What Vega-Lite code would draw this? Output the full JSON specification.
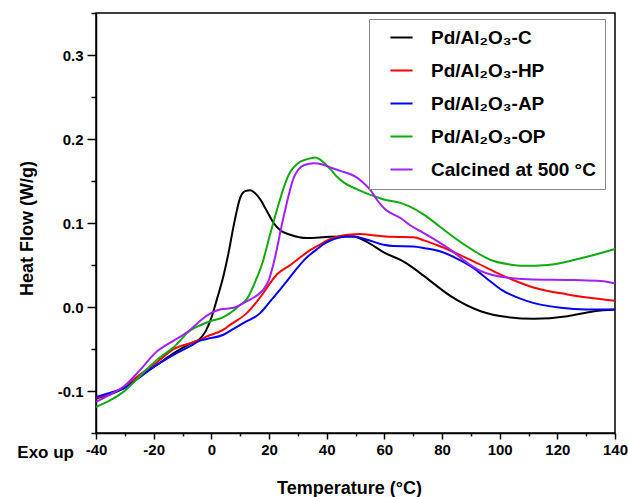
{
  "$schema": "https://vega.github.io/schema/vega-lite/v6.json",
  "width": 519,
  "height": 420,
  "autosize": {"type": "none"},
  "padding": {"left": 96, "top": 13, "right": 13, "bottom": 64},
  "background": "white",
  "config": {
    "font": "Liberation Sans",
    "view": {"stroke": "black", "strokeWidth": 1.5},
    "axis": {
      "grid": false,
      "domainColor": "black",
      "domainWidth": 1.5,
      "tickColor": "black",
      "tickWidth": 1.5,
      "labelColor": "black",
      "labelFont": "Liberation Sans",
      "labelFontWeight": "bold",
      "labelFontSize": 15,
      "titleColor": "black",
      "titleFont": "Liberation Sans",
      "titleFontWeight": "bold",
      "titleFontSize": 18
    },
    "legend": {
      "labelFont": "Liberation Sans",
      "labelFontWeight": "bold",
      "labelFontSize": 19,
      "labelColor": "black",
      "labelLimit": 400
    }
  },
  "resolve": {"axis": {"x": "independent", "y": "independent"}},
  "layer": [
    {
      "data": {
        "values": [
          {"s": "Pd/Al₂O₃-C", "T": -40, "v": -0.109},
          {"s": "Pd/Al₂O₃-C", "T": -35, "v": -0.104},
          {"s": "Pd/Al₂O₃-C", "T": -30.5, "v": -0.097},
          {"s": "Pd/Al₂O₃-C", "T": -25, "v": -0.083},
          {"s": "Pd/Al₂O₃-C", "T": -18.9, "v": -0.069},
          {"s": "Pd/Al₂O₃-C", "T": -13, "v": -0.055},
          {"s": "Pd/Al₂O₃-C", "T": -7, "v": -0.043},
          {"s": "Pd/Al₂O₃-C", "T": -4, "v": -0.038},
          {"s": "Pd/Al₂O₃-C", "T": -2, "v": -0.029},
          {"s": "Pd/Al₂O₃-C", "T": 0, "v": -0.013},
          {"s": "Pd/Al₂O₃-C", "T": 2, "v": 0.01},
          {"s": "Pd/Al₂O₃-C", "T": 4.2, "v": 0.037},
          {"s": "Pd/Al₂O₃-C", "T": 6, "v": 0.065},
          {"s": "Pd/Al₂O₃-C", "T": 7.7, "v": 0.096},
          {"s": "Pd/Al₂O₃-C", "T": 10, "v": 0.13},
          {"s": "Pd/Al₂O₃-C", "T": 11.7, "v": 0.138},
          {"s": "Pd/Al₂O₃-C", "T": 13.5, "v": 0.139},
          {"s": "Pd/Al₂O₃-C", "T": 15, "v": 0.136},
          {"s": "Pd/Al₂O₃-C", "T": 17, "v": 0.128},
          {"s": "Pd/Al₂O₃-C", "T": 19.3, "v": 0.114},
          {"s": "Pd/Al₂O₃-C", "T": 21.6, "v": 0.1},
          {"s": "Pd/Al₂O₃-C", "T": 24, "v": 0.091},
          {"s": "Pd/Al₂O₃-C", "T": 27.4, "v": 0.086},
          {"s": "Pd/Al₂O₃-C", "T": 33, "v": 0.082},
          {"s": "Pd/Al₂O₃-C", "T": 41, "v": 0.0835},
          {"s": "Pd/Al₂O₃-C", "T": 49.4, "v": 0.084},
          {"s": "Pd/Al₂O₃-C", "T": 52, "v": 0.081},
          {"s": "Pd/Al₂O₃-C", "T": 55.2, "v": 0.075},
          {"s": "Pd/Al₂O₃-C", "T": 59.8, "v": 0.065},
          {"s": "Pd/Al₂O₃-C", "T": 65.6, "v": 0.056},
          {"s": "Pd/Al₂O₃-C", "T": 69, "v": 0.049},
          {"s": "Pd/Al₂O₃-C", "T": 73.7, "v": 0.037},
          {"s": "Pd/Al₂O₃-C", "T": 83, "v": 0.013},
          {"s": "Pd/Al₂O₃-C", "T": 93.4, "v": -0.005},
          {"s": "Pd/Al₂O₃-C", "T": 102.7, "v": -0.012},
          {"s": "Pd/Al₂O₃-C", "T": 112, "v": -0.014},
          {"s": "Pd/Al₂O₃-C", "T": 123.5, "v": -0.011},
          {"s": "Pd/Al₂O₃-C", "T": 132.8, "v": -0.005},
          {"s": "Pd/Al₂O₃-C", "T": 140, "v": -0.003},

          {"s": "Pd/Al₂O₃-HP", "T": -40, "v": -0.108},
          {"s": "Pd/Al₂O₃-HP", "T": -35, "v": -0.103},
          {"s": "Pd/Al₂O₃-HP", "T": -30.5, "v": -0.096},
          {"s": "Pd/Al₂O₃-HP", "T": -25, "v": -0.081},
          {"s": "Pd/Al₂O₃-HP", "T": -18.9, "v": -0.066},
          {"s": "Pd/Al₂O₃-HP", "T": -13, "v": -0.05},
          {"s": "Pd/Al₂O₃-HP", "T": -7.3, "v": -0.043},
          {"s": "Pd/Al₂O₃-HP", "T": -3.9, "v": -0.039},
          {"s": "Pd/Al₂O₃-HP", "T": -1.5, "v": -0.035},
          {"s": "Pd/Al₂O₃-HP", "T": 4.2, "v": -0.027},
          {"s": "Pd/Al₂O₃-HP", "T": 6.6, "v": -0.021},
          {"s": "Pd/Al₂O₃-HP", "T": 12.4, "v": -0.007},
          {"s": "Pd/Al₂O₃-HP", "T": 18.1, "v": 0.017},
          {"s": "Pd/Al₂O₃-HP", "T": 20.5, "v": 0.029},
          {"s": "Pd/Al₂O₃-HP", "T": 22.8, "v": 0.039},
          {"s": "Pd/Al₂O₃-HP", "T": 27.4, "v": 0.05},
          {"s": "Pd/Al₂O₃-HP", "T": 29.7, "v": 0.056},
          {"s": "Pd/Al₂O₃-HP", "T": 34.4, "v": 0.068},
          {"s": "Pd/Al₂O₃-HP", "T": 37, "v": 0.073},
          {"s": "Pd/Al₂O₃-HP", "T": 41.3, "v": 0.081},
          {"s": "Pd/Al₂O₃-HP", "T": 44, "v": 0.084},
          {"s": "Pd/Al₂O₃-HP", "T": 47.5, "v": 0.086},
          {"s": "Pd/Al₂O₃-HP", "T": 51.7, "v": 0.087},
          {"s": "Pd/Al₂O₃-HP", "T": 56, "v": 0.0855},
          {"s": "Pd/Al₂O₃-HP", "T": 62.2, "v": 0.0835},
          {"s": "Pd/Al₂O₃-HP", "T": 70, "v": 0.083},
          {"s": "Pd/Al₂O₃-HP", "T": 74, "v": 0.079},
          {"s": "Pd/Al₂O₃-HP", "T": 79.5, "v": 0.072},
          {"s": "Pd/Al₂O₃-HP", "T": 91.1, "v": 0.054},
          {"s": "Pd/Al₂O₃-HP", "T": 102.7, "v": 0.035},
          {"s": "Pd/Al₂O₃-HP", "T": 112, "v": 0.023},
          {"s": "Pd/Al₂O₃-HP", "T": 123.5, "v": 0.015},
          {"s": "Pd/Al₂O₃-HP", "T": 140, "v": 0.0075},

          {"s": "Pd/Al₂O₃-AP", "T": -40, "v": -0.107},
          {"s": "Pd/Al₂O₃-AP", "T": -35, "v": -0.102},
          {"s": "Pd/Al₂O₃-AP", "T": -30.5, "v": -0.097},
          {"s": "Pd/Al₂O₃-AP", "T": -25, "v": -0.084},
          {"s": "Pd/Al₂O₃-AP", "T": -18.9, "v": -0.069},
          {"s": "Pd/Al₂O₃-AP", "T": -13.1, "v": -0.057},
          {"s": "Pd/Al₂O₃-AP", "T": -7, "v": -0.046},
          {"s": "Pd/Al₂O₃-AP", "T": -3.9, "v": -0.04},
          {"s": "Pd/Al₂O₃-AP", "T": -1.5, "v": -0.038},
          {"s": "Pd/Al₂O₃-AP", "T": 4.2, "v": -0.033},
          {"s": "Pd/Al₂O₃-AP", "T": 7.7, "v": -0.026},
          {"s": "Pd/Al₂O₃-AP", "T": 11.2, "v": -0.019},
          {"s": "Pd/Al₂O₃-AP", "T": 17, "v": -0.007},
          {"s": "Pd/Al₂O₃-AP", "T": 20, "v": 0.005},
          {"s": "Pd/Al₂O₃-AP", "T": 23.9, "v": 0.021},
          {"s": "Pd/Al₂O₃-AP", "T": 26, "v": 0.03},
          {"s": "Pd/Al₂O₃-AP", "T": 29.7, "v": 0.046},
          {"s": "Pd/Al₂O₃-AP", "T": 32.5, "v": 0.057},
          {"s": "Pd/Al₂O₃-AP", "T": 36.7, "v": 0.069},
          {"s": "Pd/Al₂O₃-AP", "T": 39.5, "v": 0.076},
          {"s": "Pd/Al₂O₃-AP", "T": 43.6, "v": 0.082},
          {"s": "Pd/Al₂O₃-AP", "T": 46.5, "v": 0.084},
          {"s": "Pd/Al₂O₃-AP", "T": 49.4, "v": 0.084},
          {"s": "Pd/Al₂O₃-AP", "T": 54, "v": 0.08},
          {"s": "Pd/Al₂O₃-AP", "T": 59.8, "v": 0.074},
          {"s": "Pd/Al₂O₃-AP", "T": 63, "v": 0.0725},
          {"s": "Pd/Al₂O₃-AP", "T": 70, "v": 0.072},
          {"s": "Pd/Al₂O₃-AP", "T": 74, "v": 0.07},
          {"s": "Pd/Al₂O₃-AP", "T": 79.5, "v": 0.066},
          {"s": "Pd/Al₂O₃-AP", "T": 85, "v": 0.058},
          {"s": "Pd/Al₂O₃-AP", "T": 91.1, "v": 0.046},
          {"s": "Pd/Al₂O₃-AP", "T": 95.5, "v": 0.034},
          {"s": "Pd/Al₂O₃-AP", "T": 100.4, "v": 0.021},
          {"s": "Pd/Al₂O₃-AP", "T": 109.6, "v": 0.007},
          {"s": "Pd/Al₂O₃-AP", "T": 121.2, "v": -0.001},
          {"s": "Pd/Al₂O₃-AP", "T": 130, "v": -0.003},
          {"s": "Pd/Al₂O₃-AP", "T": 140, "v": -0.003},

          {"s": "Pd/Al₂O₃-OP", "T": -40, "v": -0.119},
          {"s": "Pd/Al₂O₃-OP", "T": -35, "v": -0.111},
          {"s": "Pd/Al₂O₃-OP", "T": -30.5, "v": -0.101},
          {"s": "Pd/Al₂O₃-OP", "T": -25, "v": -0.083},
          {"s": "Pd/Al₂O₃-OP", "T": -18.9, "v": -0.063},
          {"s": "Pd/Al₂O₃-OP", "T": -13.1, "v": -0.048},
          {"s": "Pd/Al₂O₃-OP", "T": -7.3, "v": -0.028},
          {"s": "Pd/Al₂O₃-OP", "T": -4, "v": -0.022},
          {"s": "Pd/Al₂O₃-OP", "T": -0.4, "v": -0.017},
          {"s": "Pd/Al₂O₃-OP", "T": 4.2, "v": -0.012},
          {"s": "Pd/Al₂O₃-OP", "T": 6.6, "v": -0.007},
          {"s": "Pd/Al₂O₃-OP", "T": 9.5, "v": 0.001},
          {"s": "Pd/Al₂O₃-OP", "T": 12.4, "v": 0.01},
          {"s": "Pd/Al₂O₃-OP", "T": 15.8, "v": 0.035},
          {"s": "Pd/Al₂O₃-OP", "T": 17.5, "v": 0.05},
          {"s": "Pd/Al₂O₃-OP", "T": 20.5, "v": 0.088},
          {"s": "Pd/Al₂O₃-OP", "T": 24, "v": 0.13},
          {"s": "Pd/Al₂O₃-OP", "T": 25.5, "v": 0.146},
          {"s": "Pd/Al₂O₃-OP", "T": 27.4, "v": 0.161},
          {"s": "Pd/Al₂O₃-OP", "T": 28.8, "v": 0.167},
          {"s": "Pd/Al₂O₃-OP", "T": 30.9, "v": 0.173},
          {"s": "Pd/Al₂O₃-OP", "T": 33.2, "v": 0.176},
          {"s": "Pd/Al₂O₃-OP", "T": 36.1, "v": 0.178},
          {"s": "Pd/Al₂O₃-OP", "T": 37.5, "v": 0.176},
          {"s": "Pd/Al₂O₃-OP", "T": 39.3, "v": 0.171},
          {"s": "Pd/Al₂O₃-OP", "T": 41.3, "v": 0.164},
          {"s": "Pd/Al₂O₃-OP", "T": 43.6, "v": 0.155},
          {"s": "Pd/Al₂O₃-OP", "T": 46, "v": 0.148},
          {"s": "Pd/Al₂O₃-OP", "T": 50.6, "v": 0.14},
          {"s": "Pd/Al₂O₃-OP", "T": 56.4, "v": 0.132},
          {"s": "Pd/Al₂O₃-OP", "T": 59.8, "v": 0.128},
          {"s": "Pd/Al₂O₃-OP", "T": 65.6, "v": 0.124},
          {"s": "Pd/Al₂O₃-OP", "T": 68.5, "v": 0.12},
          {"s": "Pd/Al₂O₃-OP", "T": 73.7, "v": 0.11},
          {"s": "Pd/Al₂O₃-OP", "T": 79.5, "v": 0.095},
          {"s": "Pd/Al₂O₃-OP", "T": 85.3, "v": 0.08},
          {"s": "Pd/Al₂O₃-OP", "T": 91, "v": 0.067},
          {"s": "Pd/Al₂O₃-OP", "T": 96.9, "v": 0.056},
          {"s": "Pd/Al₂O₃-OP", "T": 103, "v": 0.051},
          {"s": "Pd/Al₂O₃-OP", "T": 108.5, "v": 0.049},
          {"s": "Pd/Al₂O₃-OP", "T": 116.6, "v": 0.05},
          {"s": "Pd/Al₂O₃-OP", "T": 128.2, "v": 0.058},
          {"s": "Pd/Al₂O₃-OP", "T": 140, "v": 0.069},

          {"s": "Calcined at 500 °C", "T": -40, "v": -0.113},
          {"s": "Calcined at 500 °C", "T": -35, "v": -0.104},
          {"s": "Calcined at 500 °C", "T": -30.5, "v": -0.095},
          {"s": "Calcined at 500 °C", "T": -25, "v": -0.076},
          {"s": "Calcined at 500 °C", "T": -18.9, "v": -0.053},
          {"s": "Calcined at 500 °C", "T": -13, "v": -0.04},
          {"s": "Calcined at 500 °C", "T": -9.7, "v": -0.033},
          {"s": "Calcined at 500 °C", "T": -7.3, "v": -0.027},
          {"s": "Calcined at 500 °C", "T": -3, "v": -0.014},
          {"s": "Calcined at 500 °C", "T": -0.4, "v": -0.008},
          {"s": "Calcined at 500 °C", "T": 3, "v": -0.003},
          {"s": "Calcined at 500 °C", "T": 7.7, "v": -0.001},
          {"s": "Calcined at 500 °C", "T": 12.4, "v": 0.007},
          {"s": "Calcined at 500 °C", "T": 15.5, "v": 0.013},
          {"s": "Calcined at 500 °C", "T": 18.1, "v": 0.021},
          {"s": "Calcined at 500 °C", "T": 19.8, "v": 0.031},
          {"s": "Calcined at 500 °C", "T": 21.6, "v": 0.052},
          {"s": "Calcined at 500 °C", "T": 25.1, "v": 0.108},
          {"s": "Calcined at 500 °C", "T": 28.6, "v": 0.154},
          {"s": "Calcined at 500 °C", "T": 30.3, "v": 0.164},
          {"s": "Calcined at 500 °C", "T": 32.3, "v": 0.169},
          {"s": "Calcined at 500 °C", "T": 35.5, "v": 0.171},
          {"s": "Calcined at 500 °C", "T": 38.3, "v": 0.17},
          {"s": "Calcined at 500 °C", "T": 41.3, "v": 0.166},
          {"s": "Calcined at 500 °C", "T": 44.8, "v": 0.162},
          {"s": "Calcined at 500 °C", "T": 48.3, "v": 0.158},
          {"s": "Calcined at 500 °C", "T": 50.5, "v": 0.154},
          {"s": "Calcined at 500 °C", "T": 53, "v": 0.147},
          {"s": "Calcined at 500 °C", "T": 55.2, "v": 0.139},
          {"s": "Calcined at 500 °C", "T": 58, "v": 0.125},
          {"s": "Calcined at 500 °C", "T": 60.4, "v": 0.116},
          {"s": "Calcined at 500 °C", "T": 65.6, "v": 0.106},
          {"s": "Calcined at 500 °C", "T": 69.1, "v": 0.097},
          {"s": "Calcined at 500 °C", "T": 73.7, "v": 0.088},
          {"s": "Calcined at 500 °C", "T": 83, "v": 0.068},
          {"s": "Calcined at 500 °C", "T": 89, "v": 0.052},
          {"s": "Calcined at 500 °C", "T": 93.4, "v": 0.043},
          {"s": "Calcined at 500 °C", "T": 97.5, "v": 0.038},
          {"s": "Calcined at 500 °C", "T": 102.7, "v": 0.035},
          {"s": "Calcined at 500 °C", "T": 109.6, "v": 0.033},
          {"s": "Calcined at 500 °C", "T": 125.8, "v": 0.032},
          {"s": "Calcined at 500 °C", "T": 135, "v": 0.031},
          {"s": "Calcined at 500 °C", "T": 140, "v": 0.028}
        ]
      },
      "mark": {"type": "line", "strokeWidth": 2, "interpolate": "monotone"},
      "encoding": {
        "x": {
          "field": "T",
          "type": "quantitative",
          "scale": {"domain": [-40, 140], "nice": false, "zero": false},
          "axis": {
            "orient": "bottom",
            "values": [-40, -20, 0, 20, 40, 60, 80, 100, 120, 140],
            "labelExpr": "replace(format(datum.value, 'd'), '−', '-')",
            "tickSize": 6,
            "labelPadding": 3,
            "labelFlush": false,
            "labelOverlap": false,
            "title": "Temperature (°C)",
            "titleX": 253,
            "titleY": 55,
            "titleBaseline": "middle"
          }
        },
        "y": {
          "field": "v",
          "type": "quantitative",
          "scale": {"domain": [-0.15, 0.35], "nice": false, "zero": false},
          "axis": {
            "orient": "left",
            "values": [-0.1, 0, 0.1, 0.2, 0.3],
            "labelExpr": "replace(format(datum.value, '.1f'), '−', '-')",
            "tickSize": 9,
            "labelPadding": 4,
            "labelFlush": false,
            "labelOverlap": false,
            "title": "Heat Flow (W/g)",
            "titleX": -69,
            "titleY": 215,
            "titleBaseline": "middle"
          }
        },
        "color": {
          "field": "s",
          "type": "nominal",
          "scale": {
            "domain": ["Pd/Al₂O₃-C", "Pd/Al₂O₃-HP", "Pd/Al₂O₃-AP", "Pd/Al₂O₃-OP", "Calcined at 500 °C"],
            "range": ["#000000", "#ff0000", "#0000ff", "#11aa11", "#a020ff"]
          },
          "legend": {
            "title": null,
            "orient": "none",
            "legendX": 273,
            "legendY": 6,
            "symbolType": "M-1.3,0H1.3",
            "symbolSize": 289,
            "symbolStrokeWidth": 2,
            "symbolOffset": 14,
            "labelOffset": 20,
            "labelLimit": 400,
            "rowPadding": 13,
            "padding": 9,
            "strokeColor": "#888888",
            "fillColor": "white"
          }
        }
      }
    },
    {
      "data": {"values": [{"label": "Exo up"}]},
      "mark": {"type": "text", "align": "right", "baseline": "middle", "dx": -22, "dy": 20, "fontSize": 17, "fontWeight": "bold", "font": "Liberation Sans", "color": "black"},
      "encoding": {
        "text": {"field": "label", "type": "nominal"},
        "x": {
          "datum": -40,
          "type": "quantitative",
          "axis": {
            "orient": "bottom",
            "values": [-30, -10, 10, 30, 50, 70, 90, 110, 130],
            "tickSize": 3,
            "labels": false,
            "domain": false,
            "title": null
          }
        },
        "y": {
          "datum": -0.15,
          "type": "quantitative",
          "axis": {
            "orient": "left",
            "values": [-0.15, -0.05, 0.05, 0.15, 0.25, 0.35],
            "tickSize": 5,
            "labels": false,
            "domain": false,
            "title": null
          }
        }
      }
    }
  ]
}
